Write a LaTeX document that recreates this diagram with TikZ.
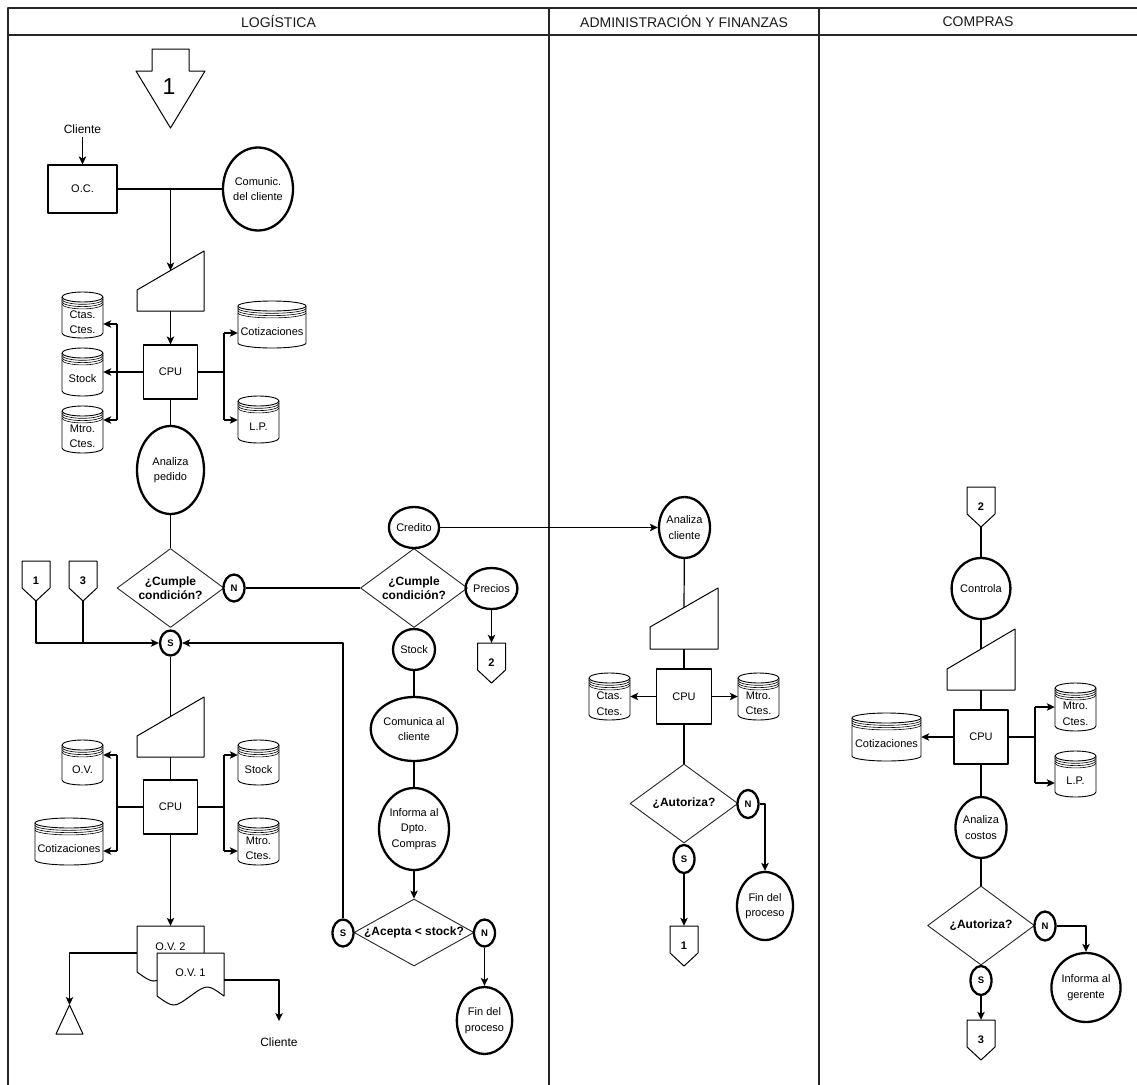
\documentclass[tikz,border=0pt]{standalone}
\usepackage{fontspec}
\setmainfont{Liberation Sans}
\usetikzlibrary{shapes.geometric,arrows.meta}
\newcommand\nodefnt{\fontsize{11}{15.5}\selectfont}
\newcommand\diafnt{\fontsize{12}{14}\selectfont\bfseries}
\newcommand\snfnt{\fontsize{9.5}{10}\selectfont\bfseries}
\newcommand\numfnt{\fontsize{11}{12}\selectfont\bfseries}
\newcommand\hdrfnt{\fontsize{14}{16}\selectfont}
\newcommand\clifnt{\fontsize{12}{14}\selectfont}
\newcommand\bignumfnt{\fontsize{23}{24}\selectfont}
% datastore cylinder: name, cx, cy, w, h, text
\newcommand\dstore[6]{%
  \pgfmathsetmacro\dsl{#2-#4/2}%
  \pgfmathsetmacro\dsr{#2+#4/2}%
  \pgfmathsetmacro\dst{#3-#5/2+5}%
  \pgfmathsetmacro\dsb{#3+#5/2-5}%
  \pgfmathsetmacro\dsrx{#4/2}%
  \draw[cyl,fill=white] (\dsl,\dst) -- (\dsl,\dsb) arc[start angle=180,end angle=360,x radius=\dsrx pt,y radius=5pt] -- (\dsr,\dst);
  \draw[cyl] (#2,\dst) ellipse[x radius=\dsrx pt,y radius=5pt];
  \foreach \dsk in {2.3,4.6,6.9}{\draw[cyl,line width=0.6pt] (\dsl,\dst+\dsk) arc[start angle=180,end angle=360,x radius=\dsrx pt,y radius=5pt];}
  \node[inner sep=0pt,minimum width=#4pt,minimum height=#5pt,font=\nodefnt,align=center] (#1) at (#2,#3+7) {#6};
}
% document shape: name, x1, y1, x2, yb, text
\newcommand\docsh[6]{%
  \draw[thinln,fill=white] (#2,#3) -- (#4,#3) -- (#4,#5) .. controls ({#4-(#4-#2)/4},{#5-12}) .. ({(#2+#4)/2},#5) .. controls ({#2+(#4-#2)/4},{#5+12}) .. (#2,#5) -- cycle;
  \node[inner sep=0pt,minimum width=(#4-#2)*1pt,minimum height=(#5-#3)*1pt,font=\nodefnt] (#1) at ({(#2+#4)/2},{(#3+#5)/2}) {\raisebox{4pt}{#6}};
}
% manual input: name, xl, xr, y top-right, y top-left, y bottom
\newcommand\minput[6]{%
  \draw[thinln,fill=white] (#2,#5) -- (#3,#4) -- (#3,#6) -- (#2,#6) -- cycle;
  \coordinate (#1-in) at ({(#2+#3)/2},{(#4+#5)/2});
  \coordinate (#1-out) at ({(#2+#3)/2},#6);
}
% off-page connector: name, cx, top, label
\newcommand\offpg[4]{%
  \draw[thinln] ({#2-14},#3) -- ({#2+14},#3) -- ({#2+14},{#3+27}) -- (#2,{#3+40}) -- ({#2-14},{#3+27}) -- cycle;
  \node[inner sep=0pt,minimum width=28pt,minimum height=40pt,font=\numfnt] (#1) at (#2,{#3+20}) {#4};
}
\begin{document}
\begin{tikzpicture}[x=1pt,y=-1pt,line join=round,
 ln/.style={draw=black, line width=1.2pt},
 arr/.style={ln, -{Stealth[length=8pt,width=7.5pt,inset=2pt]}},
 thinln/.style={draw=black, line width=1pt},
 box/.style={draw=black, line width=1.1pt, rectangle, inner sep=0pt, font=\nodefnt, align=center},
 proc/.style={draw=black, ellipse, line width=2.3pt, inner sep=0pt, align=center, font=\nodefnt},
 sn/.style={draw=black, ellipse, line width=2.3pt, inner sep=0pt, font=\snfnt, minimum width=21pt, minimum height=27pt},
 dia/.style={draw=black!85, diamond, line width=0.9pt, inner sep=0pt},
 dtext/.style={font=\diafnt, align=center, inner sep=0pt},
 cyl/.style={draw=black, line width=0.9pt},
 hdr/.style={font=\hdrfnt, text=black!90},
 frame/.style={draw=black!85, line width=1.5pt},
]
\useasboundingbox (0,0) rectangle (1137,1084);
% ---------- frame and lane headers
\draw[frame] (8,1095) -- (8,8) -- (1150,8);
\draw[frame] (8,35) -- (1150,35);
\draw[frame] (549,8) -- (549,1095);
\draw[frame] (819,8) -- (819,1095);
\node[hdr] (hl) at (278.5,21.5) {LOGÍSTICA};
\node[hdr] (ha) at (684,21.5) {ADMINISTRACIÓN Y FINANZAS};
\node[hdr] (hc) at (978,21.5) {COMPRAS};

% ---------- LOGISTICA: order entry
\draw[thinln] (152,49) -- (189,49) -- (189,71) -- (205,71) -- (170.5,128) -- (136,71) -- (152,71) -- cycle;
\node[font=\bignumfnt] (big1) at (169,87) {1};
\node[font=\clifnt] (cli1) at (82.5,129) {Cliente};
\node[box, minimum width=69pt, minimum height=48pt] (oc) at (82.5,189) {O.C.};
\draw[arr] (cli1) -- (oc);
\node[proc, minimum width=70pt, minimum height=83pt] (com) at (258,189) {Comunic.\\del cliente};
\draw[ln] (oc) -- (com);
\minput{mi1}{137}{204}{251}{290}{311}
\coordinate (j1) at (170.5,189);
\draw[arr] (j1) -- (mi1-in);
\node[box, minimum width=54pt, minimum height=54pt] (cpu1) at (170.5,372) {CPU};
\draw[arr] (mi1-out) -- (cpu1);
\dstore{ctas1}{82.5}{315}{41}{46}{Ctas.\\Ctes.}
\dstore{stk1}{82.5}{372}{41}{48}{Stock}
\dstore{mtro1}{82.5}{429.5}{41}{47}{Mtro.\\Ctes.}
\dstore{cot1}{272}{324.5}{68}{47}{Cotizaciones}
\dstore{lp1}{258.5}{419.5}{41}{47}{L.P.}
\coordinate (b1l) at (117,372);
\coordinate (b1a) at (117,324);
\coordinate (b1c) at (117,420);
\draw[ln] (cpu1.west) -- (b1l);
\draw[ln] (b1a) -- (b1c);
\draw[arr] (b1a) -- (b1a -| ctas1.east);
\draw[arr] (b1l) -- (b1l -| stk1.east);
\draw[arr] (b1c) -- (b1c -| mtro1.east);
\coordinate (b1r) at (224,372);
\coordinate (b1d) at (224,333);
\coordinate (b1e) at (224,420);
\draw[ln] (cpu1.east) -- (b1r);
\draw[ln] (b1d) -- (b1e);
\draw[arr] (b1d) -- (b1d -| cot1.west);
\draw[arr] (b1e) -- (b1e -| lp1.west);
\node[proc, minimum width=67pt, minimum height=88pt] (anp) at (170.5,470) {Analiza\\pedido};
\draw[ln] (cpu1) -- (anp);

% ---------- decision 1
\node[dia, minimum width=107pt, minimum height=79pt, label={[dtext]center:{¿Cumple\\condición?}}] (d1) at (170.5,588) {};
\draw[ln] (anp) -- (d1);
\node[sn] (n1) at (234,588) {N};
\node[sn, minimum height=25pt] (s1) at (170.5,643) {S};
\offpg{c1}{36}{561}{1}
\offpg{c3}{83}{561}{3}
\coordinate (k1) at (36,643);
\coordinate (k3) at (83,643);
\draw[arr] (c1.south) -- (k1) -- (s1.west);
\draw[ln] (c3.south) -- (k3);

% ---------- decision 2 branch
\node[dia, minimum width=107pt, minimum height=79pt, label={[dtext]center:{¿Cumple\\condición?}}] (d2) at (414,588) {};
\draw[ln] (n1) -- (d2);
\node[proc, minimum width=42pt, minimum height=41pt] (cred) at (414,527.5) {Credito};
\node[proc, minimum width=49pt, minimum height=41pt] (prec) at (491.5,588.5) {Precios};
\node[proc, minimum width=42pt, minimum height=41pt] (stk) at (414,649.5) {Stock};
\offpg{c2}{491.5}{643}{2}
\draw[arr] (prec) -- (c2.north);
\node[proc, minimum width=70pt, minimum height=64pt] (cmc) at (414,729) {Comunica al\\cliente};
\node[proc, minimum width=70pt, minimum height=82pt] (inf) at (414,829) {Informa al\\Dpto.\\Compras};
\draw[ln] (stk) -- (cmc);
\draw[ln] (cmc) -- (inf);
\node[dia, minimum width=120pt, minimum height=67pt, label={[dtext]center:{¿Acepta < stock?}}] (d3) at (414,932.5) {};
\draw[arr] (inf) -- (d3);
\node[sn] (s3) at (343,933) {S};
\node[sn] (n3) at (484.5,933) {N};
\node[proc, minimum width=54pt, minimum height=67pt] (fin1) at (484.5,1020.5) {Fin del\\proceso};
\draw[arr] (n3) -- (fin1);
\coordinate (k4) at (343,643);
\draw[arr] (s3.north) -- (k4) -- (s1.east);
\node[proc, minimum width=47pt, minimum height=61pt] (anc) at (684.5,527.5) {Analiza\\cliente};
\draw[arr] (cred) -- (anc);

% ---------- order issue
\minput{mi2}{137}{204}{697}{736}{757}
\draw[ln] (s1) -- (mi2-in);
\node[box, minimum width=54pt, minimum height=54pt] (cpu2) at (170.5,807) {CPU};
\draw[ln] (mi2-out) -- (cpu2);
\dstore{ov}{82.5}{762.5}{41}{45}{O.V.}
\dstore{cot2}{69}{841.5}{68}{47}{Cotizaciones}
\dstore{stk2}{258.5}{762.5}{41}{45}{Stock}
\dstore{mtro2}{258.5}{841.5}{41}{47}{Mtro.\\Ctes.}
\coordinate (b2l) at (117,807);
\coordinate (b2a) at (117,755);
\coordinate (b2c) at (117,851);
\draw[ln] (cpu2.west) -- (b2l);
\draw[ln] (b2a) -- (b2c);
\draw[arr] (b2a) -- (b2a -| ov.east);
\draw[arr] (b2c) -- (b2c -| cot2.east);
\coordinate (b2r) at (224,807);
\coordinate (b2d) at (224,755);
\coordinate (b2e) at (224,851);
\draw[ln] (cpu2.east) -- (b2r);
\draw[ln] (b2d) -- (b2e);
\draw[arr] (b2d) -- (b2d -| stk2.west);
\draw[arr] (b2e) -- (b2e -| mtro2.west);
\docsh{ov2}{137}{926}{204}{972}{O.V. 2}
\docsh{ov1}{157}{953}{224}{996}{O.V. 1}
\draw[arr] (cpu2) -- (ov2.north);
\draw[thinln] (56,1034) -- (83,1034) -- (69.5,1005) -- cycle;
\coordinate (tri) at (69.5,1005);
\coordinate (q1) at (137,953);
\coordinate (q2) at (69.5,953);
\draw[arr] (q1) -- (q2) -- (tri);
\node[font=\clifnt] (cli2) at (279,1042) {Cliente};
\coordinate (q3) at (224,980);
\coordinate (q4) at (279,980);
\draw[arr, shorten >=13pt] (q3) -- (q4) -- (cli2.north);

% ---------- ADMINISTRACION Y FINANZAS
\minput{mi3}{650}{718}{588}{627}{649}
\draw[ln] (anc) -- (mi3-in);
\node[box, minimum width=55pt, minimum height=55pt] (cpu3) at (684,696.5) {CPU};
\draw[ln] (mi3-out) -- (cpu3);
\dstore{ctas3}{609.5}{696.5}{41}{47}{Ctas.\\Ctes.}
\dstore{mtro3}{758.5}{696.5}{41}{47}{Mtro.\\Ctes.}
\draw[arr] (cpu3.west) -- (cpu3.west -| ctas3.east);
\draw[arr] (cpu3.east) -- (cpu3.east -| mtro3.west);
\node[dia, minimum width=108pt, minimum height=79pt, label={[dtext]center:{¿Autoriza?}}] (d4) at (684,803.5) {};
\draw[ln] (cpu3) -- (d4);
\node[sn, minimum height=28pt] (n4) at (748,804) {N};
\node[sn, minimum height=28pt] (s4) at (684,859) {S};
\node[proc, minimum width=56pt, minimum height=68pt] (fin2) at (765,906) {Fin del\\proceso};
\coordinate (k5) at (765,804);
\draw[arr] (n4) -- (k5) -- (fin2);
\offpg{c1b}{684}{926}{1}
\draw[arr] (s4) -- (c1b.north);

% ---------- COMPRAS
\offpg{c2b}{981}{487}{2}
\node[proc, minimum width=48pt, minimum height=61pt] (ctl) at (981,588.5) {Controla};
\draw[ln] (c2b.south) -- (ctl);
\minput{mi4}{947}{1015}{629}{669}{690}
\draw[ln] (ctl) -- (mi4-in);
\node[box, minimum width=54pt, minimum height=54pt] (cpu4) at (981,737) {CPU};
\draw[ln] (mi4-out) -- (cpu4);
\dstore{cot4}{886.5}{737}{69}{48}{Cotizaciones}
\draw[arr] (cpu4.west) -- (cpu4.west -| cot4.east);
\dstore{mtro4}{1075.5}{707}{41}{48}{Mtro.\\Ctes.}
\dstore{lp4}{1075.5}{774}{41}{46}{L.P.}
\coordinate (b4r) at (1035,737);
\coordinate (b4a) at (1035,707);
\coordinate (b4c) at (1035,783);
\draw[ln] (cpu4.east) -- (b4r);
\draw[ln] (b4a) -- (b4c);
\draw[arr] (b4a) -- (b4a -| mtro4.west);
\draw[arr] (b4c) -- (b4c -| lp4.west);
\node[proc, minimum width=48pt, minimum height=61pt] (acost) at (981,827.5) {Analiza\\costos};
\draw[ln] (cpu4) -- (acost);
\node[dia, minimum width=107pt, minimum height=79pt, label={[dtext]center:{¿Autoriza?}}] (d5) at (981,925.5) {};
\draw[ln] (acost) -- (d5);
\node[sn, minimum height=29pt] (n5) at (1045,926) {N};
\node[sn, minimum height=29pt] (s5) at (981,980.5) {S};
\node[proc, minimum width=65pt, minimum height=69pt] (ig) at (1086,987.5) {Informa al\\gerente};
\coordinate (k6) at (1086,926);
\draw[arr] (n5) -- (k6) -- (ig);
\offpg{c3b}{981}{1020}{3}
\draw[arr] (s5) -- (c3b.north);
\end{tikzpicture}
\end{document}
